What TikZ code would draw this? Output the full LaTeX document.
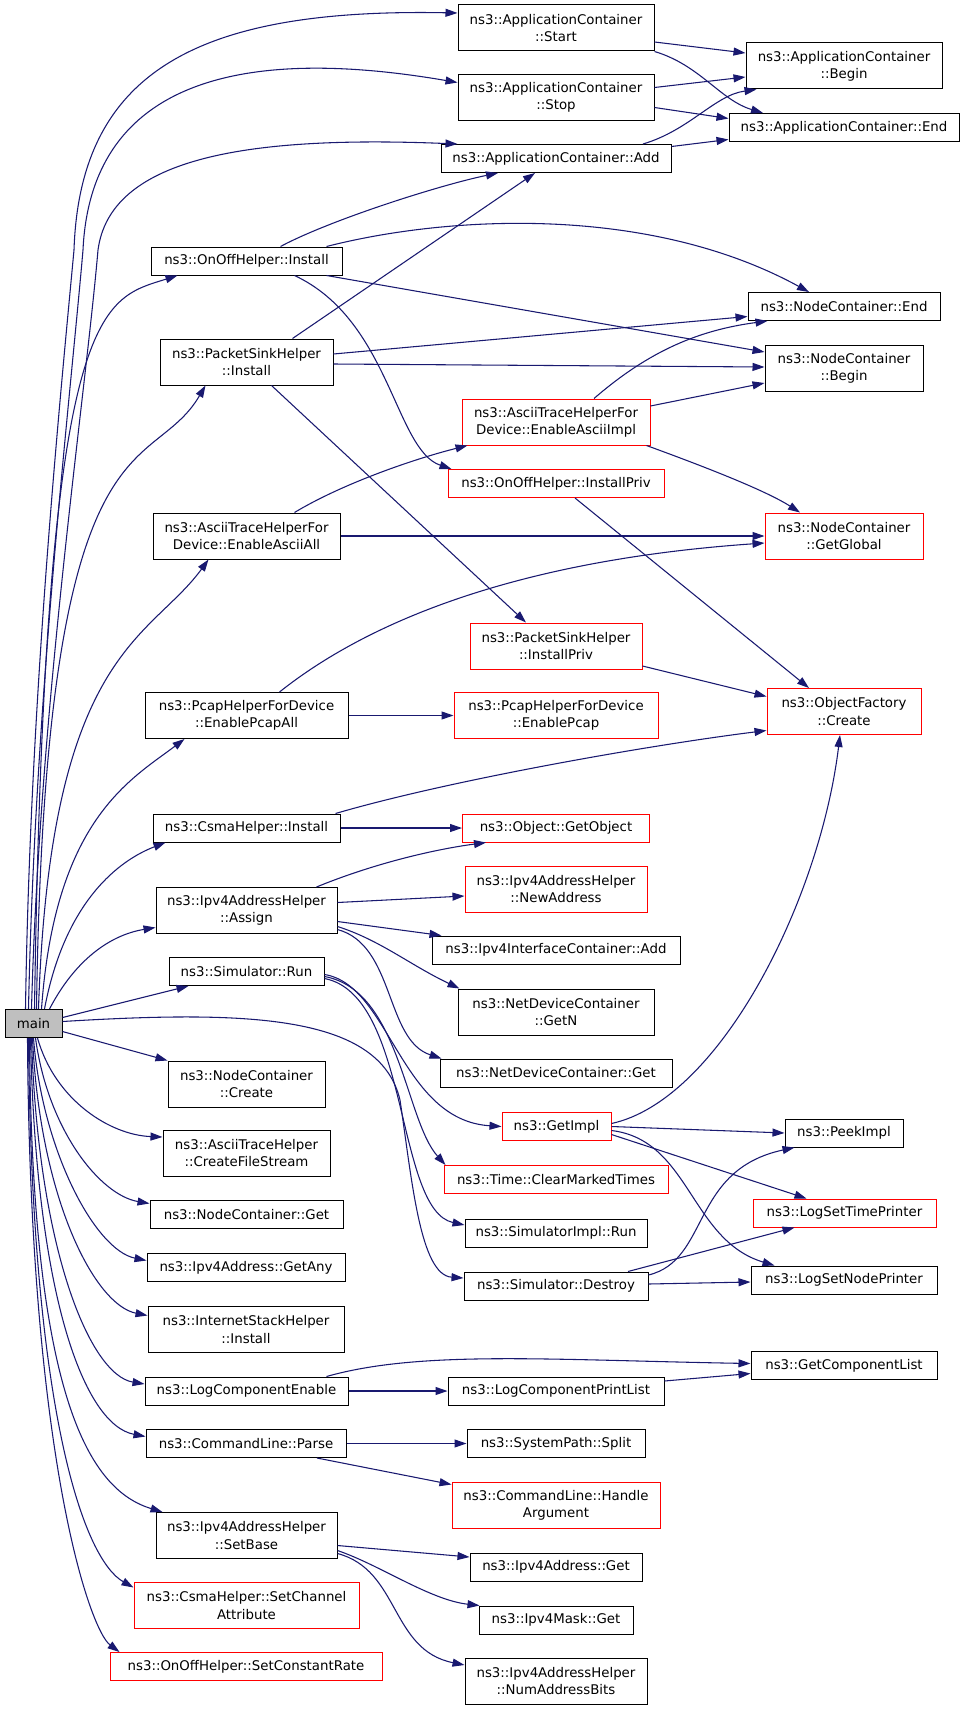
\documentclass[tikz,border=0pt]{standalone}
\usepackage{fontspec}
\setmainfont{DejaVu Sans}
\usetikzlibrary{arrows.meta}
\definecolor{callblue}{HTML}{191970}
\definecolor{undoc}{HTML}{FF0000}
\definecolor{mainbg}{HTML}{BFBFBF}
\tikzset{
  fn/.style={draw=black, line width=0.75pt, fill=white, font=\fontsize{10}{13}\selectfont, align=center, inner sep=0pt, minimum height=21pt},
  two/.style={minimum height=34.5pt},
  wd/.style={minimum width=#1*0.75pt},
  undocfn/.style={fn, draw=undoc},
  call/.style={draw=callblue, line width=0.8pt, -{Triangle[length=9pt,width=6pt]}},
}
\begin{document}
\begin{tikzpicture}[x=0.75pt, y=-0.75pt]
\fill[white] (0,0) rectangle (960,1709);
\useasboundingbox (0,0) rectangle (960,1709);

% functions
\node[fn, wd=57, fill=mainbg] (main) at (33.5,1023.5) {main};
\node[fn, wd=196, two] (acstart) at (556,28) {ns3::ApplicationContainer\\::Start};
\node[fn, wd=196, two] (acstop) at (556,97.5) {ns3::ApplicationContainer\\::Stop};
\node[fn, wd=230] (acadd) at (556,158.5) {ns3::ApplicationContainer::Add};
\node[fn, wd=196, two] (acbegin) at (844,66) {ns3::ApplicationContainer\\::Begin};
\node[fn, wd=230] (acend) at (844,127.5) {ns3::ApplicationContainer::End};
\node[fn, wd=191] (onoffinst) at (246.5,261) {ns3::OnOffHelper::Install};
\node[fn, wd=173, two] (psinst) at (246.5,362) {ns3::PacketSinkHelper\\::Install};
\node[fn, wd=192] (ncend) at (844,306.5) {ns3::NodeContainer::End};
\node[fn, wd=158, two] (ncbegin) at (844,368) {ns3::NodeContainer\\::Begin};
\node[undocfn, wd=188, two] (asciiimpl) at (556,422) {ns3::AsciiTraceHelperFor\\Device::EnableAsciiImpl};
\node[undocfn, wd=216] (onoffpriv) at (556,483.5) {ns3::OnOffHelper::InstallPriv};
\node[fn, wd=187, two] (asciiall) at (246.5,536) {ns3::AsciiTraceHelperFor\\Device::EnableAsciiAll};
\node[undocfn, wd=158, two] (getglobal) at (844,536) {ns3::NodeContainer\\::GetGlobal};
\node[undocfn, wd=172, two] (pspriv) at (556,646) {ns3::PacketSinkHelper\\::InstallPriv};
\node[fn, wd=203, two] (pcapall) at (246.5,715.5) {ns3::PcapHelperForDevice\\::EnablePcapAll};
\node[undocfn, wd=204, two] (pcap) at (556,715.5) {ns3::PcapHelperForDevice\\::EnablePcap};
\node[undocfn, wd=154, two] (ofcreate) at (844,711.5) {ns3::ObjectFactory\\::Create};
\node[fn, wd=187] (csmainst) at (246.5,828) {ns3::CsmaHelper::Install};
\node[undocfn, wd=187] (getobject) at (556,828) {ns3::Object::GetObject};
\node[fn, wd=181, two] (assign) at (246.5,910.5) {ns3::Ipv4AddressHelper\\::Assign};
\node[undocfn, wd=182, two] (newaddr) at (556,889) {ns3::Ipv4AddressHelper\\::NewAddress};
\node[fn, wd=248] (ifadd) at (556,950) {ns3::Ipv4InterfaceContainer::Add};
\node[fn, wd=155] (simrun) at (246.5,971.5) {ns3::Simulator::Run};
\node[fn, wd=196, two] (getn) at (556,1012) {ns3::NetDeviceContainer\\::GetN};
\node[fn, wd=232] (ndget) at (556,1073) {ns3::NetDeviceContainer::Get};
\node[fn, wd=157, two] (nccreate) at (246.5,1084) {ns3::NodeContainer\\::Create};
\node[undocfn, wd=109] (getimpl) at (556.5,1126.5) {ns3::GetImpl};
\node[fn, wd=118] (peekimpl) at (844,1133) {ns3::PeekImpl};
\node[fn, wd=167, two] (filestream) at (246.5,1153) {ns3::AsciiTraceHelper\\::CreateFileStream};
\node[undocfn, wd=224] (cleartimes) at (556,1179.5) {ns3::Time::ClearMarkedTimes};
\node[undocfn, wd=183] (timeprinter) at (844.5,1213) {ns3::LogSetTimePrinter};
\node[fn, wd=193] (ncget) at (246.5,1214.5) {ns3::NodeContainer::Get};
\node[fn, wd=182] (simimplrun) at (556,1233) {ns3::SimulatorImpl::Run};
\node[fn, wd=198] (getany) at (246,1267.5) {ns3::Ipv4Address::GetAny};
\node[fn, wd=184] (destroy) at (556,1286) {ns3::Simulator::Destroy};
\node[fn, wd=186] (nodeprinter) at (844,1280) {ns3::LogSetNodePrinter};
\node[fn, wd=196, two] (inetinst) at (246,1329.5) {ns3::InternetStackHelper\\::Install};
\node[fn, wd=186] (complist) at (844,1365.5) {ns3::GetComponentList};
\node[fn, wd=203] (logenable) at (246.5,1391) {ns3::LogComponentEnable};
\node[fn, wd=216] (printlist) at (556,1391) {ns3::LogComponentPrintList};
\node[fn, wd=200] (parse) at (246,1443.5) {ns3::CommandLine::Parse};
\node[fn, wd=178] (split) at (556,1443.5) {ns3::SystemPath::Split};
\node[undocfn, wd=208, two] (handlearg) at (556,1505) {ns3::CommandLine::Handle\\Argument};
\node[fn, wd=181, two] (setbase) at (246.5,1535.5) {ns3::Ipv4AddressHelper\\::SetBase};
\node[fn, wd=172] (addrget) at (556,1567) {ns3::Ipv4Address::Get};
\node[undocfn, wd=225, two] (setchannel) at (246.5,1605.5) {ns3::CsmaHelper::SetChannel\\Attribute};
\node[fn, wd=154] (maskget) at (556,1620) {ns3::Ipv4Mask::Get};
\node[undocfn, wd=272] (setrate) at (246,1666.5) {ns3::OnOffHelper::SetConstantRate};
\node[fn, wd=182, two] (numbits) at (556,1681) {ns3::Ipv4AddressHelper\\::NumAddressBits};

% calls from main
\draw[call] ([shift={(-8,0)}]main.north) .. controls (30,700) and (60,400) .. (74,250) .. controls (80,70) and (200,8) .. ([shift={(0,-15)}]acstart.west);
\draw[call] ([shift={(-5,0)}]main.north) .. controls (35,700) and (70,400) .. (83,250) .. controls (90,100) and (210,40) .. ([shift={(0,-15)}]acstop.west);
\draw[call] ([shift={(-2,0)}]main.north) .. controls (40,700) and (85,400) .. (98,250) .. controls (110,160) and (240,135) .. ([shift={(17,0)}]acadd.north west);
\draw[call] ([shift={(1,0)}]main.north) .. controls (45,300) and (100,300) .. ([shift={(27,0)}]onoffinst.south west);
\draw[call] ([shift={(3,0)}]main.north) .. controls (45,400) and (150,480) .. ([shift={(46,0)}]psinst.south west);
\draw[call] ([shift={(5,0)}]main.north) .. controls (50,650) and (150,640) .. ([shift={(56,0)}]asciiall.south west);
\draw[call] ([shift={(8,0)}]main.north) .. controls (55,820) and (130,780) .. ([shift={(40,0)}]pcapall.south west);
\draw[call] ([shift={(11,0)}]main.north) .. controls (65,900) and (120,860) .. ([shift={(13,0)}]csmainst.south west);
\draw[call] ([shift={(16,0)}]main.north) .. controls (75,960) and (110,935) .. ([shift={(0,17)}]assign.west);
\draw[call] ([shift={(0,-6)}]main.east) -- ([shift={(20,0)}]simrun.south west);
\draw[call] ([shift={(0,8)}]main.east) -- (nccreate.north west);
\draw[call] ([shift={(0,-2)}]main.east) .. controls (250,1010) and (380,1015) .. (400,1100) .. controls (412,1180) and (420,1275) .. ([shift={(0,-8)}]destroy.west);
\draw[call] ([shift={(4,0)}]main.south) .. controls (55,1100) and (110,1135) .. ([shift={(0,-16)}]filestream.west);
\draw[call] ([shift={(2,0)}]main.south) .. controls (48,1130) and (100,1195) .. ([shift={(0,-11)}]ncget.west);
\draw[call] (main.south) .. controls (42,1150) and (95,1250) .. ([shift={(0,-7)}]getany.west);
\draw[call] ([shift={(-1,0)}]main.south) .. controls (40,1200) and (95,1305) .. ([shift={(0,-14)}]inetinst.west);
\draw[call] ([shift={(-2,0)}]main.south) .. controls (38,1250) and (90,1375) .. ([shift={(0,-7)}]logenable.west);
\draw[call] ([shift={(-3,0)}]main.south) .. controls (36,1300) and (85,1425) .. ([shift={(0,-7)}]parse.west);
\draw[call] ([shift={(-4,0)}]main.south) .. controls (32,1400) and (90,1490) .. ([shift={(7,0)}]setbase.north west);
\draw[call] ([shift={(-5,0)}]main.south) .. controls (32,1420) and (85,1560) .. ([shift={(0,-18)}]setchannel.west);
\draw[call] ([shift={(-6,0)}]main.south) .. controls (30,1460) and (90,1630) .. ([shift={(10,0)}]setrate.north west);

% second level
\draw[call] ([shift={(34,0)}]onoffinst.north) .. controls (330,220) and (440,185) .. ([shift={(-58,0)}]acadd.south);
\draw[call] ([shift={(80,0)}]onoffinst.north) .. controls (450,215) and (650,205) .. ([shift={(-35,0)}]ncend.north);
\draw[call] ([shift={(80,0)}]onoffinst.south) -- ([shift={(0,-16)}]ncbegin.west);
\draw[call] ([shift={(48,0)}]onoffinst.south) .. controls (390,320) and (395,450) .. ([shift={(4,0)}]onoffpriv.north west);
\draw[call] ([shift={(46,0)}]psinst.north) -- ([shift={(-21,0)}]acadd.south);
\draw[call] ([shift={(0,-8)}]psinst.east) -- ([shift={(0,10)}]ncend.west);
\draw[call] ([shift={(0,2)}]psinst.east) -- ([shift={(0,-1)}]ncbegin.west);
\draw[call] ([shift={(25,0)}]psinst.south) -- ([shift={(-30,0)}]pspriv.north);
\draw[call] ([shift={(48,0)}]asciiall.north) .. controls (340,485) and (410,460) .. ([shift={(6,0)}]asciiimpl.south west);
\draw[call] (asciiall.east) -- (getglobal.west);
\draw[call] ([shift={(33,0)}]pcapall.north) .. controls (370,620) and (520,560) .. ([shift={(0,7)}]getglobal.west);
\draw[call] (pcapall.east) -- (pcap.west);
\draw[call] ([shift={(-5,0)}]csmainst.north east) .. controls (450,780) and (650,745) .. ([shift={(0,19)}]ofcreate.west);
\draw[call] (csmainst.east) -- (getobject.west);
\draw[call] ([shift={(70,0)}]assign.north) .. controls (370,865) and (430,850) .. ([shift={(24,0)}]getobject.south west);
\draw[call] ([shift={(0,-8)}]assign.east) -- ([shift={(0,7)}]newaddr.west);
\draw[call] ([shift={(0,11)}]assign.east) -- ([shift={(10,0)}]ifadd.north west);
\draw[call] ([shift={(0,16)}]assign.east) .. controls (380,940) and (410,965) .. ([shift={(2,0)}]getn.north west);
\draw[call] ([shift={(0,19)}]assign.east) .. controls (395,945) and (385,1040) .. ([shift={(2,0)}]ndget.north west);
\draw[call] ([shift={(0,3)}]simrun.east) .. controls (390,985) and (400,1120) .. (getimpl.west);
\draw[call] ([shift={(0,5)}]simrun.east) .. controls (400,990) and (405,1120) .. ([shift={(2,0)}]cleartimes.north west);
\draw[call] ([shift={(0,7)}]simrun.east) .. controls (410,995) and (395,1210) .. ([shift={(0,-8)}]simimplrun.west);

% third level
\draw[call] ([shift={(0,14)}]acstart.east) -- ([shift={(0,-13)}]acbegin.west);
\draw[call] (acstart.south east) .. controls (700,65) and (720,100) .. ([shift={(-81,0)}]acend.north);
\draw[call] ([shift={(0,-10)}]acstop.east) -- ([shift={(0,11)}]acbegin.west);
\draw[call] ([shift={(0,10)}]acstop.east) -- ([shift={(0,-9)}]acend.west);
\draw[call] ([shift={(87,0)}]acadd.north) .. controls (690,130) and (715,95) .. ([shift={(11,0)}]acbegin.south west);
\draw[call] ([shift={(0,-12)}]acadd.east) -- ([shift={(0,12)}]acend.west);
\draw[call] ([shift={(38,0)}]asciiimpl.north) .. controls (650,350) and (700,330) .. ([shift={(20,0)}]ncend.south west);
\draw[call] ([shift={(0,-16)}]asciiimpl.east) -- ([shift={(0,15)}]ncbegin.west);
\draw[call] ([shift={(-4,0)}]asciiimpl.south east) .. controls (700,465) and (765,490) .. ([shift={(-44,0)}]getglobal.north);
\draw[call] ([shift={(19,0)}]onoffpriv.south) -- ([shift={(-35,0)}]ofcreate.north);
\draw[call] ([shift={(0,20)}]pspriv.east) -- ([shift={(0,-15)}]ofcreate.west);
\draw[call] ([shift={(0,-3)}]getimpl.east) .. controls (720,1100) and (820,900) .. ([shift={(-4,0)}]ofcreate.south);
\draw[call] (getimpl.east) -- (peekimpl.west);
\draw[call] ([shift={(0,8)}]getimpl.east) -- ([shift={(-38,0)}]timeprinter.north);
\draw[call] ([shift={(0,4)}]getimpl.east) .. controls (690,1140) and (690,1240) .. ([shift={(24,0)}]nodeprinter.north west);
\draw[call] ([shift={(0,-11)}]destroy.east) .. controls (710,1260) and (690,1170) .. ([shift={(10,0)}]peekimpl.south west);
\draw[call] ([shift={(72,0)}]destroy.north) -- ([shift={(-50,0)}]timeprinter.south);
\draw[call] ([shift={(0,-2)}]destroy.east) -- ([shift={(0,2)}]nodeprinter.west);
\draw[call] ([shift={(80,0)}]logenable.north) .. controls (420,1350) and (550,1360) .. ([shift={(0,-2)}]complist.west);
\draw[call] (logenable.east) -- (printlist.west);
\draw[call] ([shift={(0,-10)}]printlist.east) -- ([shift={(0,8)}]complist.west);
\draw[call] (parse.east) -- (split.west);
\draw[call] ([shift={(71,0)}]parse.south) -- ([shift={(0,3)}]handlearg.north west);
\draw[call] ([shift={(0,10)}]setbase.east) -- ([shift={(0,-10)}]addrget.west);
\draw[call] ([shift={(0,15)}]setbase.east) .. controls (380,1565) and (430,1600) .. ([shift={(1,0)}]maskget.north west);
\draw[call] ([shift={(0,18)}]setbase.east) .. controls (400,1570) and (390,1650) .. ([shift={(0,-16)}]numbits.west);
\end{tikzpicture}
\end{document}
